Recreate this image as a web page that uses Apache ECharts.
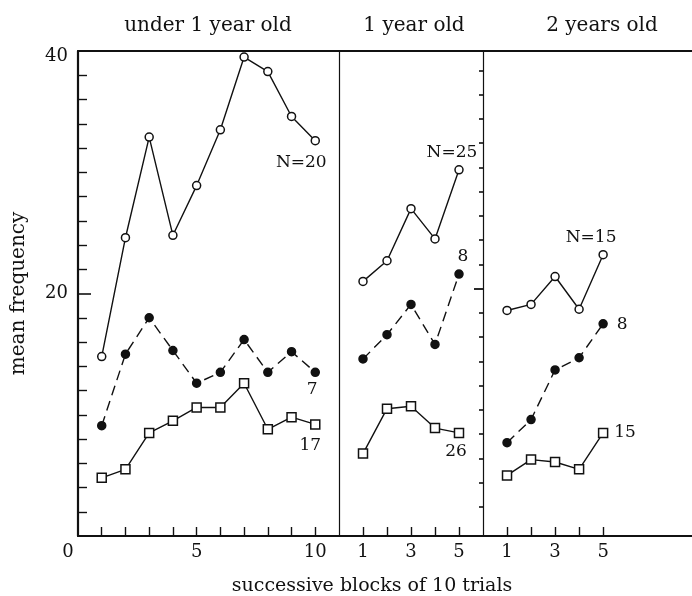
<!DOCTYPE html>
<html>
<head>
<meta charset="utf-8">
<script src="https://cdn.jsdelivr.net/npm/echarts@6/dist/echarts.min.js"></script>
<style>
  html, body { margin: 0; padding: 0; background: #fff; }
  #chart { width: 692px; height: 596px; }
</style>
</head>
<body>
<div id="chart"></div>
<script>
// panel titles
const panelTitles = ['under 1 year old', '1 year old', '2 years old'];

// blocks of 10 trials
const blocksUnder1 = [1, 2, 3, 4, 5, 6, 7, 8, 9, 10];
const blocksOlder = [1, 2, 3, 4, 5];

// under 1 year old
const under1Open = [14.8, 24.6, 32.9, 24.8, 28.9, 33.5, 39.5, 38.3, 34.6, 32.6];
const under1Filled = [9.1, 15.0, 18.0, 15.3, 12.6, 13.5, 16.2, 13.5, 15.2, 13.5];
const under1Square = [4.8, 5.5, 8.5, 9.5, 10.6, 10.6, 12.6, 8.8, 9.8, 9.2];

// 1 year old
const one1Open = [21.0, 22.7, 27.0, 24.5, 30.2];
const one1Filled = [14.6, 16.6, 19.1, 15.8, 21.6];
const one1Square = [6.8, 10.5, 10.7, 8.9, 8.5];

// 2 years old
const two2Open = [18.6, 19.1, 21.4, 18.7, 23.2];
const two2Filled = [7.7, 9.6, 13.7, 14.7, 17.5];
const two2Square = [5.0, 6.3, 6.1, 5.5, 8.5];

// group labels at line ends
const under1Labels = ['N=20', '7', '17'];
const one1Labels = ['N=25', '8', '26'];
const two2Labels = ['N=15', '8', '15'];

// tick values
const leftTicks = [2, 4, 6, 8, 10, 12, 14, 16, 18, 22, 24, 26, 28, 30, 32, 34, 36, 38];
const leftLongTicks = [20];
const leftTickLabels = [20, 40];
const rightTicks = [2.4, 4.4, 6.4, 8.4, 10.4, 12.4, 14.4, 16.4, 18.4, 22.4, 24.4, 26.4, 28.4, 30.4, 32.4, 34.4, 36.4, 38.4];
const rightLongTicks = [20.4];
const under1XTicks = [1, 2, 3, 4, 5, 6, 7, 8, 9, 10];
const under1XLabels = [0, 5, 10];
const olderXTicks = [1, 2, 3, 4, 5];
const olderXLabels = [1, 3, 5];

const FONT = 'DejaVu Serif';
const INK = '#111';

const chart = echarts.init(document.getElementById('chart'));

const gridTop = 51, gridHeight = 485;
const grids = [
  { left: 78, top: gridTop, width: 261, height: gridHeight },
  { left: 339, top: gridTop, width: 144, height: gridHeight },
  { left: 483, top: gridTop, right: 0, height: gridHeight }
];

function bottomAxis(gridIndex, max, ticks, labels) {
  return {
    type: 'value', gridIndex: gridIndex, min: 0, max: max, position: 'bottom',
    axisLine: { show: true, onZero: false, lineStyle: { color: INK, width: 2.2 } },
    axisTick: { show: true, inside: true, length: 9, customValues: ticks, lineStyle: { color: INK, width: 1.4 } },
    axisLabel: {
      show: true, customValues: labels, margin: 7,
      fontFamily: FONT, fontSize: 18, color: INK,
      formatter: v => v === 0 ? '{z|0}' : String(v),
      rich: { z: { fontFamily: FONT, fontSize: 18, color: INK, padding: [0, 20, 0, 0] } }
    },
    splitLine: { show: false }
  };
}
function topAxis(gridIndex, max) {
  return {
    type: 'value', gridIndex: gridIndex, min: 0, max: max, position: 'top',
    axisLine: { show: true, onZero: false, lineStyle: { color: INK, width: 2.2 } },
    axisTick: { show: false }, axisLabel: { show: false }, splitLine: { show: false }
  };
}
function plainY(gridIndex, extra) {
  return Object.assign({
    type: 'value', gridIndex: gridIndex, min: 0, max: 40,
    axisLine: { show: false }, axisTick: { show: false },
    axisLabel: { show: false }, splitLine: { show: false }
  }, extra);
}

const xAxes = [
  bottomAxis(0, 11, under1XTicks, under1XLabels),
  bottomAxis(1, 6, olderXTicks, olderXLabels),
  bottomAxis(2, 8.7, olderXTicks, olderXLabels),
  topAxis(0, 11), topAxis(1, 6), topAxis(2, 8.7)
];

const yAxes = [
  // 0: left axis of first panel, short ticks + labels + name
  plainY(0, {
    position: 'left',
    axisLine: { show: true, onZero: false, lineStyle: { color: INK, width: 2.2 } },
    axisTick: { show: true, inside: true, length: 9, customValues: leftTicks, lineStyle: { color: INK, width: 1.4 } },
    axisLabel: {
      show: true, customValues: leftTickLabels, margin: 10, fontFamily: FONT, fontSize: 18, color: INK,
      formatter: v => v === 40 ? '{t|40}' : String(v),
      rich: { t: { fontFamily: FONT, fontSize: 18, color: INK, padding: [10, 0, 0, 0] } }
    },
    name: 'mean frequency', nameLocation: 'middle', nameGap: 49, nameRotate: 90,
    nameTextStyle: { fontFamily: FONT, fontSize: 20, color: INK }
  }),
  // 1: long tick at 20
  plainY(0, {
    position: 'left',
    axisTick: { show: true, inside: true, length: 13, customValues: leftLongTicks, lineStyle: { color: INK, width: 1.6 } }
  }),
  // 2, 3: panel dividers
  plainY(1, { position: 'left', axisLine: { show: true, onZero: false, lineStyle: { color: INK, width: 1.2 } } }),
  plainY(2, { position: 'left', axisLine: { show: true, onZero: false, lineStyle: { color: INK, width: 1.2 } } }),
  // 4, 5: ticks of the neighbouring axis at the right edge
  plainY(2, {
    position: 'right',
    axisTick: { show: true, inside: true, length: 4, customValues: rightTicks, lineStyle: { color: INK, width: 1.6 } }
  }),
  plainY(2, {
    position: 'right',
    axisTick: { show: true, inside: true, length: 9, customValues: rightLongTicks, lineStyle: { color: INK, width: 1.8 } }
  })
];

const styles = [
  { symbol: 'circle', symbolSize: 8, color: '#fff', dash: 'solid' },
  { symbol: 'circle', symbolSize: 8, color: INK, dash: [10, 6] },
  { symbol: 'rect', symbolSize: 9, color: '#fff', dash: 'solid' }
];
const labelOffsets = [
  [[-14, 22], [-3, 17], [-5, 21]],
  [[-7, -17], [4, -18], [-3, 19]],
  [[-12, -17], [19, 1], [22, 0]]
];

const panels = [
  { blocks: blocksUnder1, sets: [under1Open, under1Filled, under1Square], labels: under1Labels },
  { blocks: blocksOlder, sets: [one1Open, one1Filled, one1Square], labels: one1Labels },
  { blocks: blocksOlder, sets: [two2Open, two2Filled, two2Square], labels: two2Labels }
];

const series = [];
panels.forEach((p, pi) => {
  p.sets.forEach((vals, si) => {
    const st = styles[si];
    const last = vals.length - 1;
    const text = p.labels[si];
    series.push({
      type: 'line', xAxisIndex: pi, yAxisIndex: pi === 0 ? 0 : pi + 1,
      data: p.blocks.map((b, i) => [b, vals[i]]),
      symbol: st.symbol, symbolSize: st.symbolSize, showAllSymbol: true,
      lineStyle: { color: INK, width: 1.4, type: st.dash },
      itemStyle: { color: st.color, borderColor: INK, borderWidth: 1.5 },
      label: {
        show: true, position: 'inside', offset: labelOffsets[pi][si],
        formatter: d => d.dataIndex === last ? text : '',
        fontFamily: FONT, fontSize: 17, color: INK
      },
      z: 3 - si,
      silent: true, animation: false
    });
  });
});

const titleCenters = [203, 409, 597];

chart.setOption({
  backgroundColor: '#fff',
  animation: false,
  title: panelTitles.map((t, i) => ({
    text: t, left: titleCenters[i], top: 11, textAlign: 'center',
    textStyle: { fontFamily: FONT, fontSize: 20, fontWeight: 'normal', color: INK }
  })).concat([{
    text: 'successive blocks of 10 trials', left: 367, top: 572, textAlign: 'center',
    textStyle: { fontFamily: FONT, fontSize: 19, fontWeight: 'normal', color: INK }
  }]),
  grid: grids,
  xAxis: xAxes,
  yAxis: yAxes,
  series: series
});
</script>
</body>
</html>
